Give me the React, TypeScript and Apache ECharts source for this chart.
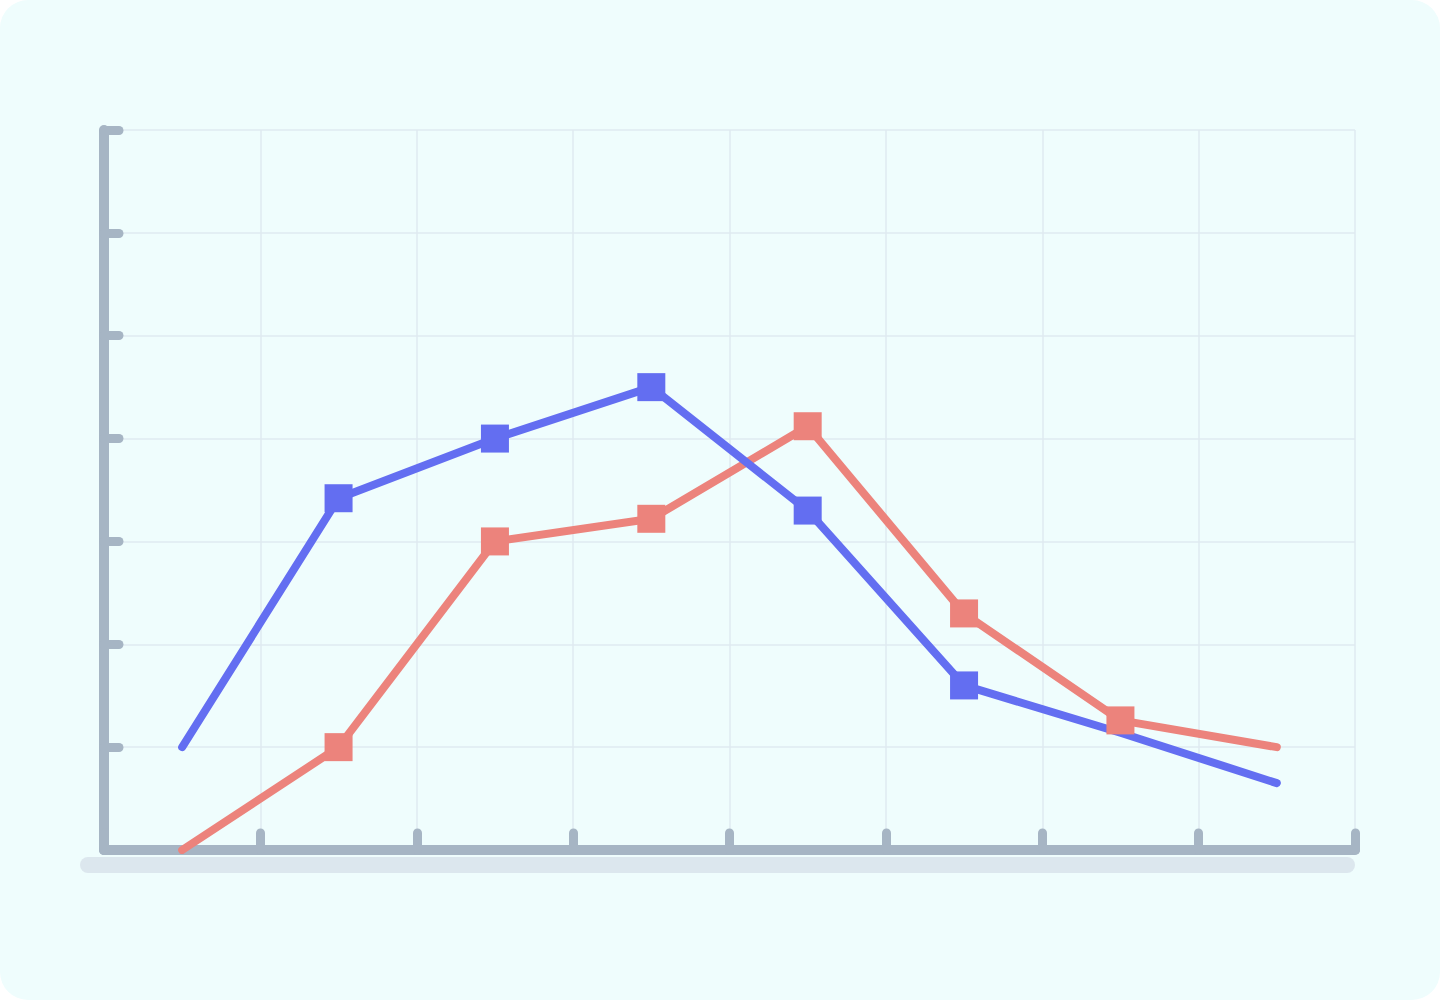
import React, { useEffect, useRef } from "react";
import * as echarts from "echarts";

const categories = ["1", "2", "3", "4", "5", "6", "7", "8"];
const blueValues = [10, 34.2, 40, 45, 33, 16, 11.4, 6.5];
const redValues = [0, 10, 30, 32.2, 41.2, 23, 12.6, 10];
const blueMarkers = [false, true, true, true, true, true, false, false];
const redMarkers = [false, true, true, true, true, true, true, false];

const BLUE = "#636ef1";
const RED = "#ec837c";
const AXIS = "#a6b5c4";
const GRID = "#dfeaf0";

export default function App() {
  const ref = useRef<HTMLDivElement>(null);
  useEffect(() => {
    if (!ref.current) return;
    const chart = echarts.init(ref.current, undefined, { renderer: "svg" });
    const mk = (vals: number[], marks: boolean[]) =>
      vals.map((v, i) => (marks[i] ? { value: v } : { value: v, symbol: "none" }));
    chart.setOption({
      animation: false,
      backgroundColor: "transparent",
      grid: { left: 104, right: 85, top: 130, bottom: 150 },
      graphic: [
        {
          type: "rect",
          z: -1,
          shape: { x: 80, y: 857, width: 1275, height: 16, r: 8 },
          style: { fill: "#dce7ee" },
        },
      ],
      xAxis: {
        type: "category",
        data: categories,
        boundaryGap: true,
        axisLabel: { show: false },
        axisLine: { lineStyle: { color: AXIS, width: 10, cap: "round" } },
        axisTick: {
          show: true,
          inside: true,
          length: 17,
          lineStyle: { color: AXIS, width: 9, cap: "round" },
        },
        splitLine: { show: true, lineStyle: { color: GRID, width: 1.5 } },
      },
      yAxis: {
        type: "value",
        min: 0,
        max: 70,
        interval: 10,
        axisLabel: { show: false },
        axisLine: { show: true, lineStyle: { color: AXIS, width: 10, cap: "round" } },
        axisTick: {
          show: true,
          inside: true,
          length: 15,
          lineStyle: { color: AXIS, width: 9, cap: "round" },
        },
        splitLine: { show: true, lineStyle: { color: GRID, width: 1.5 } },
      },
      series: [
        {
          type: "line",
          data: mk(redValues, redMarkers),
          symbol: "rect",
          symbolSize: 28,
          showAllSymbol: true,
          lineStyle: { color: RED, width: 8, cap: "round", join: "round" },
          itemStyle: { color: RED },
        },
        {
          type: "line",
          data: mk(blueValues, blueMarkers),
          symbol: "rect",
          symbolSize: 28,
          showAllSymbol: true,
          lineStyle: { color: BLUE, width: 8, cap: "round", join: "round" },
          itemStyle: { color: BLUE },
        },
      ],
    });
    return () => chart.dispose();
  }, []);
  return (
    <div
      style={{
        position: "absolute",
        left: 0,
        top: 0,
        width: 1440,
        height: 1000,
        background: "#effdfd",
        borderRadius: 28,
        overflow: "hidden",
      }}
    >
      <div ref={ref} style={{ width: 1440, height: 1000 }} />
    </div>
  );
}
